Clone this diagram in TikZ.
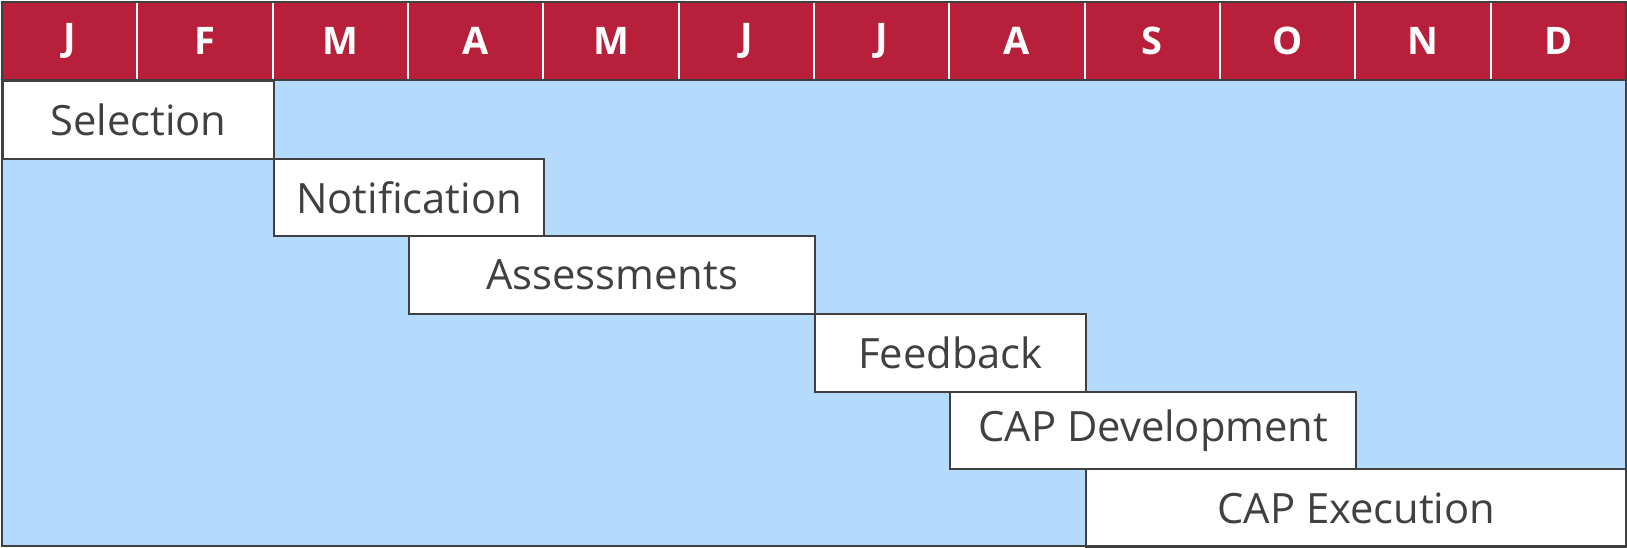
\documentclass[tikz,border=0pt]{standalone}
\usepackage{fontspec}
\setmainfont{Open Sans}
\definecolor{hdr}{HTML}{B81F3A}
\definecolor{bg}{HTML}{B4DAFE}
\definecolor{ln}{HTML}{404040}
\begin{document}
\begin{tikzpicture}[x=1pt,y=1pt,
  month/.style={inner sep=0pt, minimum width=101.5pt, minimum height=57.75pt, text=white,
    font=\bfseries\fontsize{28.5}{30}\selectfont},
  bar/.style={draw=ln, line width=1.5pt, fill=white, inner sep=0pt, anchor=north west,
    minimum height=58.25pt, text=ln, font=\fontsize{31.3}{34}\selectfont}]
\useasboundingbox (0,0) rectangle (1220.25,411);
% background
\fill[bg] (1.5,1.5) rectangle (1219.5,351);
\fill[hdr] (1.5,351) rectangle (1219.5,409.5);
% months
\foreach \m [count=\i from 0] in {J,F,M,A,M,J,J,A,S,O,N,D}{
  \node[month] (m\i) at ({1.5+101.5*\i+50.75},380.25) {\m};
}
\foreach \i in {1,...,11}{
  \draw[white, line width=1.6pt] ({1.5+101.5*\i},351) -- ({1.5+101.5*\i},409.5);
}
% bars
\node[bar, minimum width=203pt]   (sel)  at (1.5,351)    {Selection};
\node[bar, minimum width=203pt]   (not)  at (204.5,292.75) {Notification};
\node[bar, minimum width=304.5pt] (ass)  at (306,234.5)  {Assessments};
\node[bar, minimum width=203pt]   (fee)  at (610.5,176.25) {Feedback};
\node[bar, minimum width=304.5pt] (dev)  at (712,118)    {CAP Development};
\node[bar, minimum width=406pt]   (exe)  at (813.5,59.75) {CAP Execution};
% frame
\draw[ln, line width=1.5pt] (1.5,1.5) rectangle (1219.5,409.5);
\draw[ln, line width=1.5pt] (1.5,351) -- (1219.5,351);
\end{tikzpicture}
\end{document}
